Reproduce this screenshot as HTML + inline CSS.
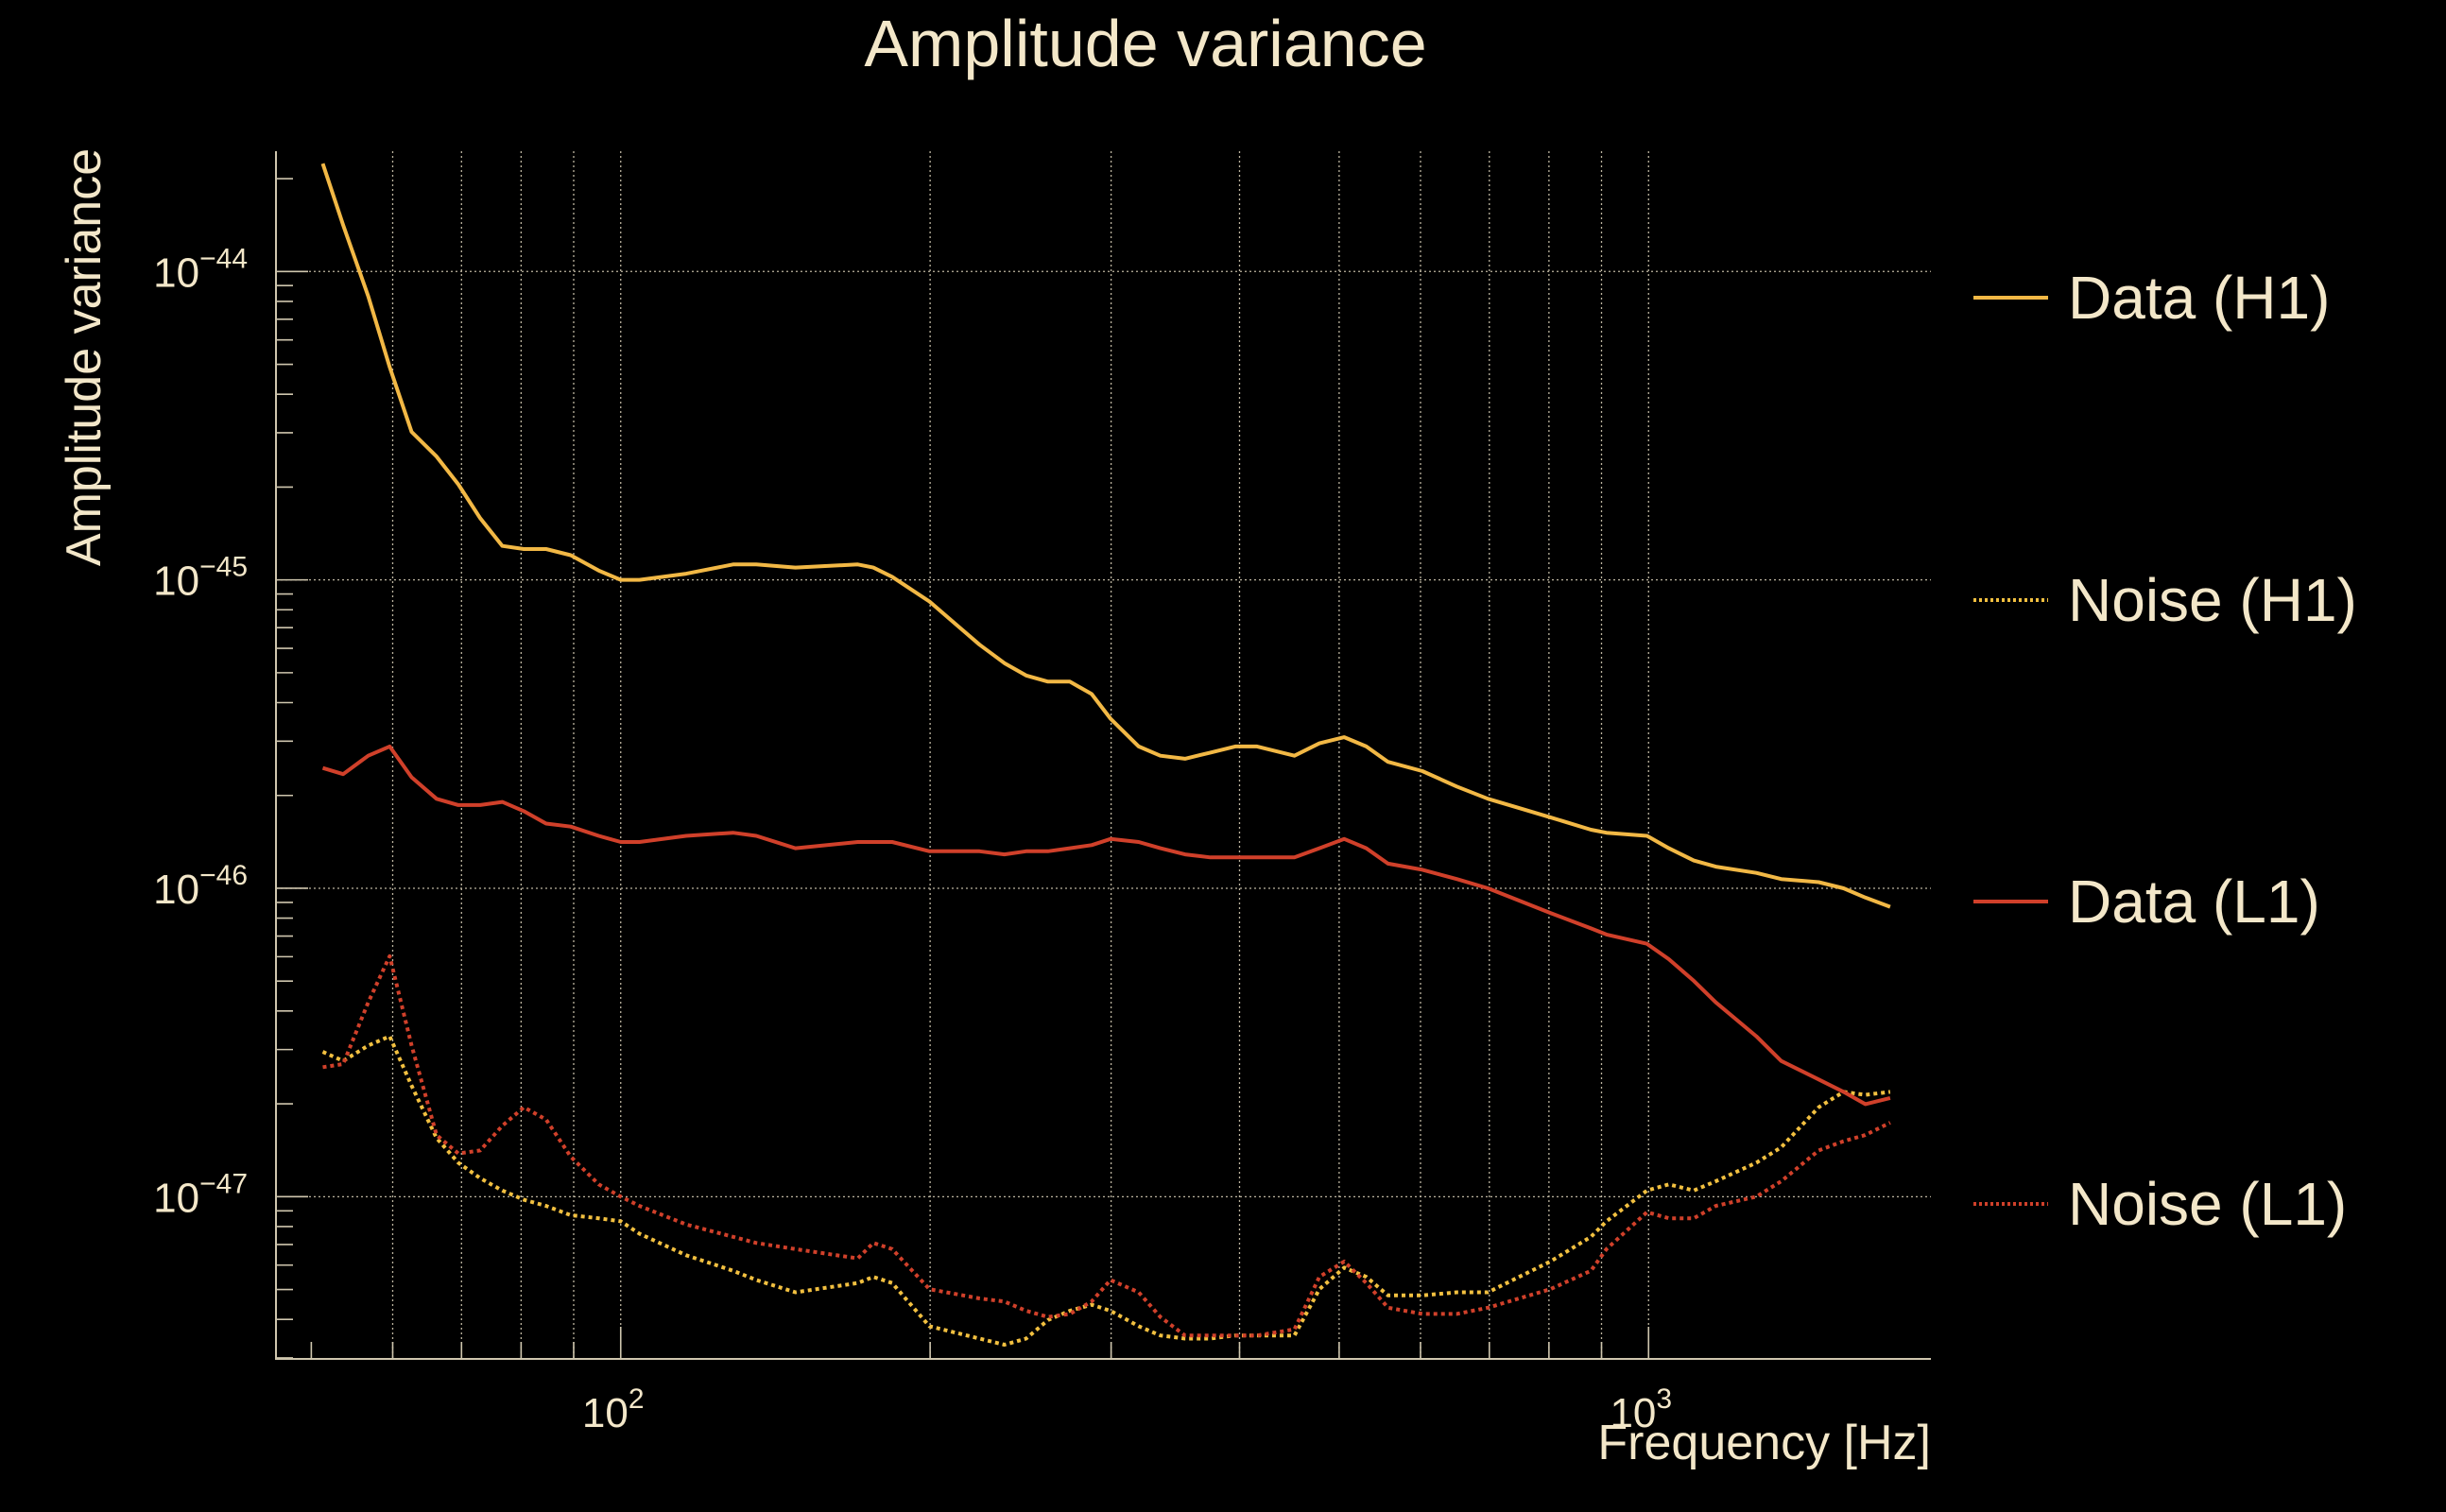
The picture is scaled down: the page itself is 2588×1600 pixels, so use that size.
<!DOCTYPE html>
<html><head><meta charset="utf-8"><style>
html,body{margin:0;padding:0;background:#000;width:2588px;height:1600px;overflow:hidden}
svg text{font-family:"Liberation Sans",sans-serif;fill:#f3e7c9}
</style></head><body>
<svg id="chart" width="2588" height="1600" xmlns="http://www.w3.org/2000/svg">
<rect width="2588" height="1600" fill="#000"/>
<text x="1212" y="70" font-size="70" text-anchor="middle">Amplitude variance</text>
<g id="grid"></g><g id="axes"></g><g id="series"></g><g id="legend"></g>
<text transform="translate(106,378) rotate(-90)" font-size="52" text-anchor="middle">Amplitude variance</text>
<text x="2043" y="1544" font-size="52" text-anchor="end">Frequency [Hz]</text>
</svg>
<script>
const freqs=[51.3,53.7,56.8,59.6,62.6,66.2,69.5,73.0,76.7,80.5,84.6,89.4,95.2,100,104.3,115.8,128.6,135.5,147.9,170.1,176.1,183.7,199.7,223.4,236.2,248.0,260.4,273.5,287.2,299.6,319.1,335,354,374.7,396.2,416,452.4,478.4,505.8,531.3,557.9,602.6,650.7,697.9,748.2,802.6,878.9,910,996.5,1046.4,1106.5,1162.5,1273,1346,1464,1548,1625,1718];
const dataH1Log=[-43.65,-43.85,-44.08,-44.31,-44.52,-44.60,-44.69,-44.80,-44.89,-44.90,-44.90,-44.92,-44.97,-45.00,-45.00,-44.98,-44.95,-44.95,-44.96,-44.95,-44.96,-44.99,-45.07,-45.21,-45.27,-45.31,-45.33,-45.33,-45.37,-45.45,-45.54,-45.57,-45.58,-45.56,-45.54,-45.54,-45.57,-45.53,-45.51,-45.54,-45.59,-45.62,-45.67,-45.71,-45.74,-45.77,-45.81,-45.82,-45.83,-45.87,-45.91,-45.93,-45.95,-45.97,-45.98,-46.00,-46.03,-46.06];
const noiseH1Log=[-46.53,-46.56,-46.51,-46.48,-46.64,-46.81,-46.89,-46.94,-46.98,-47.01,-47.03,-47.06,-47.07,-47.08,-47.12,-47.19,-47.24,-47.27,-47.31,-47.28,-47.26,-47.28,-47.42,-47.46,-47.48,-47.46,-47.40,-47.37,-47.35,-47.37,-47.42,-47.45,-47.46,-47.46,-47.45,-47.45,-47.45,-47.30,-47.23,-47.26,-47.32,-47.32,-47.31,-47.31,-47.26,-47.21,-47.13,-47.08,-46.98,-46.96,-46.98,-46.95,-46.89,-46.84,-46.71,-46.66,-46.67,-46.66];
const dataL1Log=[-45.61,-45.63,-45.57,-45.54,-45.64,-45.71,-45.73,-45.73,-45.72,-45.75,-45.79,-45.80,-45.83,-45.85,-45.85,-45.83,-45.82,-45.83,-45.87,-45.85,-45.85,-45.85,-45.88,-45.88,-45.89,-45.88,-45.88,-45.87,-45.86,-45.84,-45.85,-45.87,-45.89,-45.90,-45.90,-45.90,-45.90,-45.87,-45.84,-45.87,-45.92,-45.94,-45.97,-46.00,-46.04,-46.08,-46.13,-46.15,-46.18,-46.23,-46.30,-46.37,-46.48,-46.56,-46.62,-46.66,-46.70,-46.68];
const noiseL1Log=[-46.58,-46.57,-46.37,-46.22,-46.51,-46.80,-46.86,-46.85,-46.77,-46.71,-46.75,-46.87,-46.96,-47.00,-47.03,-47.09,-47.13,-47.15,-47.17,-47.20,-47.15,-47.17,-47.30,-47.33,-47.34,-47.37,-47.39,-47.38,-47.34,-47.27,-47.31,-47.39,-47.45,-47.45,-47.45,-47.45,-47.43,-47.26,-47.21,-47.28,-47.36,-47.38,-47.38,-47.36,-47.33,-47.30,-47.24,-47.17,-47.05,-47.07,-47.07,-47.03,-47.00,-46.95,-46.85,-46.82,-46.80,-46.76];
const yTickExps=[-44,-45,-46,-47];
const xTickExps=[2,3];
const xGridFreqs=[60,70,80,90,100,200,300,400,500,600,700,800,900,1000];
const legendLabels=["Data (H1)","Noise (H1)","Data (L1)","Noise (L1)"];

const L=292,R=2043,T=160,B=1438,XMIN=1.6646,XMAX=3.2747,YMAX=-43.61,YMIN=-47.526;
const NS="http://www.w3.org/2000/svg";
const X=f=>L+(Math.log10(f)-XMIN)/(XMAX-XMIN)*(R-L);
const Y=e=>T+(YMAX-e)/(YMAX-YMIN)*(B-T);
function mk(tag,attrs,parent){const el=document.createElementNS(NS,tag);for(const k in attrs)el.setAttribute(k,attrs[k]);parent.appendChild(el);return el;}
const grid=document.getElementById('grid'),axes=document.getElementById('axes'),series=document.getElementById('series'),legend=document.getElementById('legend');
const gc="#bdb5a0";
xGridFreqs.forEach(f=>{const l=mk('line',{x1:X(f),x2:X(f),y1:T,y2:B,stroke:gc,'stroke-width':1.3,'stroke-dasharray':'2,3'},grid);

});
yTickExps.forEach(e=>{const l=mk('line',{x1:L,x2:R,y1:Y(e),y2:Y(e),stroke:gc,'stroke-width':1.3,'stroke-dasharray':'2,3'},grid);

});
const ax=mk('path',{d:`M${L},${T}V${B}H${R}`,stroke:'#cfc6ae','stroke-width':2,fill:'none'},axes);


for(let d=-48;d<=-44;d++){for(let m=1;m<10;m++){const e=d+Math.log10(m);if(e>YMAX||e<YMIN)continue;
const t=mk('line',{x1:L,x2:L+(m===1?34:18),y1:Y(e),y2:Y(e),stroke:'#cfc6ae','stroke-width':1.6},axes);

}}
for(let d=1;d<=3;d++){for(let m=1;m<10;m++){const f=m*Math.pow(10,d);const lf=Math.log10(f);if(lf<XMIN||lf>XMAX)continue;
const t=mk('line',{x1:X(f),x2:X(f),y1:B,y2:B-(m===1?34:18),stroke:'#cfc6ae','stroke-width':1.6},axes);

}}
yTickExps.forEach(e=>{const t=mk('text',{x:L-30,y:Y(e)+16,'font-size':44,'text-anchor':'end'},axes);


t.textContent='10';const s=mk('tspan',{dy:-20,'font-size':30},t);s.textContent='\u2212'+(-e);});
xTickExps.forEach(e=>{const t=mk('text',{x:X(Math.pow(10,e))-8,y:1510,'font-size':44,'text-anchor':'middle'},axes);


t.textContent='10';const s=mk('tspan',{dy:-20,'font-size':30},t);s.textContent=String(e);});
const defs=[[dataH1Log,'#f2b845',null,'series-data-h1'],[noiseH1Log,'#f2c040','4,4','series-noise-h1'],[dataL1Log,'#d0402a',null,'series-data-l1'],[noiseL1Log,'#d0402a','4,4','series-noise-l1']];
defs.forEach(([arr,c,dash,name],i)=>{
const d=arr.map((v,j)=>(j?'L':'M')+X(freqs[j]).toFixed(1)+','+Y(v).toFixed(1)).join('');
const p=mk('path',{d:d,stroke:c,'stroke-width':4,fill:'none','stroke-linejoin':'round'},series);
if(dash)p.setAttribute('stroke-dasharray',dash);


const ly=[315,635,954,1274][i];
const ll=mk('line',{x1:2088,x2:2167,y1:ly,y2:ly,stroke:c,'stroke-width':4},legend);
if(dash)ll.setAttribute('stroke-dasharray','3,3');


const lt=mk('text',{x:2188,y:ly+22,'font-size':64},legend);


lt.textContent=legendLabels[i];
});
</script>
</body></html>
